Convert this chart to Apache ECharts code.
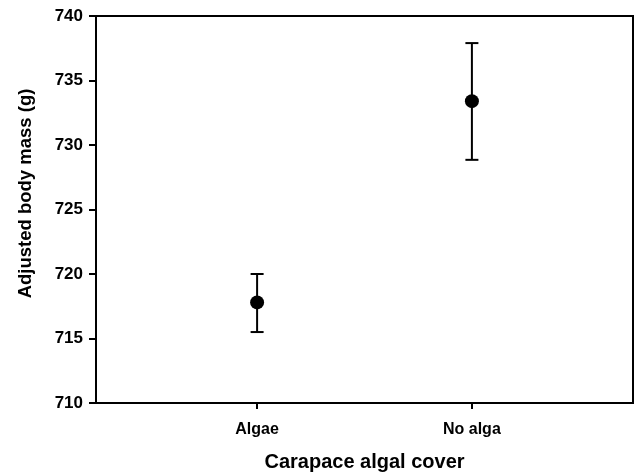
<!DOCTYPE html>
<html>
<head>
<meta charset="utf-8">
<script src="https://cdn.jsdelivr.net/npm/echarts@6/dist/echarts.min.js"></script>
<style>
  html, body { margin: 0; padding: 0; background: #fff; }
  #chart { width: 635px; height: 475px; }
</style>
</head>
<body>
<div id="chart"></div>
<script>
// group names along the x axis
const categories = ["Algae", "No alga"];
// adjusted means and error bar ends (g)
const means = [717.8, 733.4];
const lower = [715.5, 728.85];
const upper = [720.0, 737.9];
const yTicks = [710, 715, 720, 725, 730, 735, 740];

const positions = categories.map((c, i) => i + 1);

const chart = echarts.init(document.getElementById("chart"));

const font = "Liberation Sans, Arial, sans-serif";

chart.setOption({
    backgroundColor: "#fff",
    animation: false,
    grid: {
        left: 96,
        right: 2,
        top: 16,
        bottom: 72,
        outerBoundsMode: "none",
        show: true,
        borderColor: "#000",
        borderWidth: 2,
    },
    // y title sits a bit above the plot's middle in the original
    graphic: [
        {
            type: "text",
            x: 26,
            y: 193.5,
            rotation: Math.PI / 2,
            style: {
                text: "Adjusted body mass (g)",
                fill: "#000",
                fontFamily: font,
                fontWeight: "bold",
                fontSize: 18.5,
                align: "center",
                verticalAlign: "middle",
            },
        },
    ],
    xAxis: {
        type: "value",
        min: 0.25,
        max: 2.75,
        name: "Carapace algal cover",
        nameLocation: "middle",
        nameGap: 49,
        nameTextStyle: { color: "#000", fontFamily: font, fontWeight: "bold", fontSize: 20 },
        splitLine: { show: false },
        axisLine: { lineStyle: { color: "#000", width: 2 } },
        axisTick: {
            customValues: positions,
            length: 6,
            lineStyle: { color: "#000", width: 2 },
        },
        axisLabel: {
            customValues: positions,
            margin: 19,
            color: "#000",
            fontFamily: font,
            fontWeight: "bold",
            fontSize: 16,
            formatter: (v) => categories[Math.round(v) - 1] || "",
        },
    },
    yAxis: {
        type: "value",
        min: yTicks[0],
        max: yTicks[yTicks.length - 1],
        interval: 5,
        splitLine: { show: false },
        axisLine: { show: true, lineStyle: { color: "#000", width: 2 } },
        axisTick: { show: true, length: 7, lineStyle: { color: "#000", width: 2 } },
        axisLabel: {
            margin: 13,
            color: "#000",
            fontFamily: font,
            fontWeight: "bold",
            fontSize: 17,
        },
    },
    series: [
        {
            type: "custom",
            data: positions.map((x, i) => [x, lower[i], upper[i]]),
            renderItem: (params, api) => {
                const x = api.value(0);
                const lo = api.coord([x, api.value(1)]);
                const hi = api.coord([x, api.value(2)]);
                const cap = 6.5;
                const style = { stroke: "#000", lineWidth: 2 };
                return {
                    type: "group",
                    children: [
                        { type: "line", shape: { x1: lo[0], y1: lo[1], x2: hi[0], y2: hi[1] }, style },
                        { type: "line", shape: { x1: lo[0] - cap, y1: lo[1], x2: lo[0] + cap, y2: lo[1] }, style },
                        { type: "line", shape: { x1: hi[0] - cap, y1: hi[1], x2: hi[0] + cap, y2: hi[1] }, style },
                    ],
                };
            },
            z: 2,
        },
        {
            type: "scatter",
            data: positions.map((x, i) => [x, means[i]]),
            symbol: "circle",
            symbolSize: 14,
            itemStyle: { color: "#000", opacity: 1 },
            z: 3,
        },
    ],
});
</script>
</body>
</html>
